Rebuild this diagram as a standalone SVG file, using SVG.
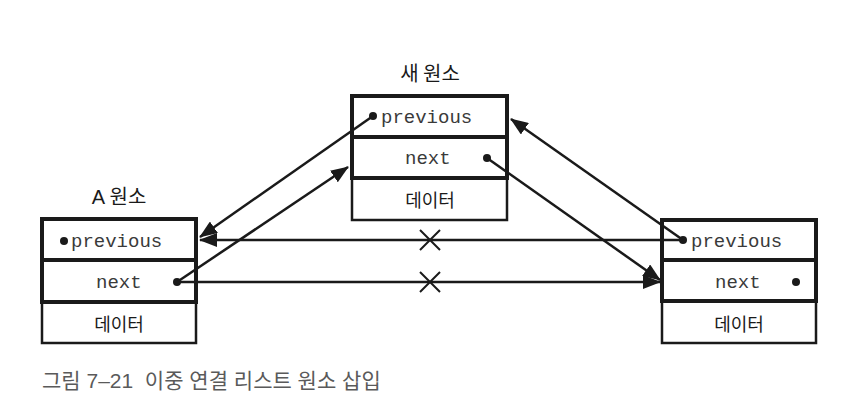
<svg xmlns="http://www.w3.org/2000/svg" width="856" height="411" viewBox="0 0 856 411">
<defs>
<marker id="ah" markerUnits="userSpaceOnUse" markerWidth="18" markerHeight="14" refX="17" refY="7" orient="auto">
<path d="M0,0 L18,7 L0,14 Z" fill="#1a1a1a"/>
</marker>
</defs>
<style>
.box{fill:#fff;stroke:#1a1a1a;stroke-width:4}
.data{fill:#fff;stroke:#1a1a1a;stroke-width:2.5}
.mono{font-family:"Liberation Mono","DejaVu Sans Mono",monospace;font-size:19px;fill:#3a3a3a}
.kr{font-family:"Noto Sans CJK KR","Noto Sans",sans-serif;font-size:18px;fill:#1a1a1a;text-anchor:middle}
.title{font-family:"Liberation Sans","Noto Sans CJK KR",sans-serif;font-size:20px;fill:#1a1a1a;text-anchor:middle}
.cap{font-family:"Liberation Sans","Noto Sans CJK KR",sans-serif;font-size:21px;fill:#5a5a5a;white-space:pre}
.ln{stroke:#1a1a1a;fill:none;stroke-width:2.5}
.dot{fill:#1a1a1a}
.x{stroke:#1a1a1a;stroke-width:2;fill:none}
</style>
<rect width="856" height="411" fill="#fff"/>

<g id="newNode">
<text class="title" x="430" y="81"><tspan font-family="Noto Sans CJK KR, sans-serif">새 원소</tspan></text>
<rect class="data" x="352" y="178" width="155" height="42"/>
<rect class="box" x="352" y="96" width="155" height="41"/>
<rect class="box" x="352" y="137" width="155" height="41"/>
<circle class="dot" cx="373" cy="116" r="4"/>
<text class="mono" x="381" y="123">previous</text>
<text class="mono" x="405" y="164">next</text>
<circle class="dot" cx="487" cy="158" r="4"/>
<text class="kr" x="430" y="207">데이터</text>
</g>

<g id="nodeA">
<text class="title" x="119" y="204"><tspan>A </tspan><tspan font-family="Noto Sans CJK KR, sans-serif">원소</tspan></text>
<rect class="data" x="42" y="302" width="154" height="41"/>
<rect class="box" x="42" y="219" width="154" height="41"/>
<rect class="box" x="42" y="260" width="154" height="42"/>
<circle class="dot" cx="64" cy="241" r="4"/>
<text class="mono" x="71" y="247">previous</text>
<text class="mono" x="96" y="288">next</text>
<circle class="dot" cx="177" cy="282" r="4"/>
<text class="kr" x="119" y="331">데이터</text>
</g>

<g id="nodeB">
<rect class="data" x="662" y="301" width="154" height="42"/>
<rect class="box" x="662" y="220" width="154" height="40"/>
<rect class="box" x="662" y="260" width="154" height="41"/>
<circle class="dot" cx="683" cy="240" r="4"/>
<text class="mono" x="691" y="247">previous</text>
<text class="mono" x="715" y="288">next</text>
<circle class="dot" cx="796" cy="282" r="4"/>
<text class="kr" x="739" y="331">데이터</text>
</g>

<g id="connectors">
<line class="ln" x1="373" y1="116" x2="200" y2="237" marker-end="url(#ah)"/>
<line class="ln" x1="177" y1="282" x2="348" y2="167" marker-end="url(#ah)"/>
<line class="ln" x1="487" y1="158" x2="660" y2="280" marker-end="url(#ah)"/>
<line class="ln" x1="683" y1="240" x2="511" y2="119" marker-end="url(#ah)"/>
<line class="ln" stroke-width="2" x1="683" y1="240" x2="200" y2="240" marker-end="url(#ah)"/>
<line class="ln" stroke-width="3" x1="177" y1="282" x2="660" y2="282" marker-end="url(#ah)"/>
<path class="x" d="M420,230 L440,250 M440,230 L420,250"/>
<path class="x" d="M420,272 L440,292 M440,272 L420,292"/>
</g>

<text class="cap" x="42" y="388" xml:space="preserve">그림 7–21  이중 연결 리스트 원소 삽입</text>
</svg>
